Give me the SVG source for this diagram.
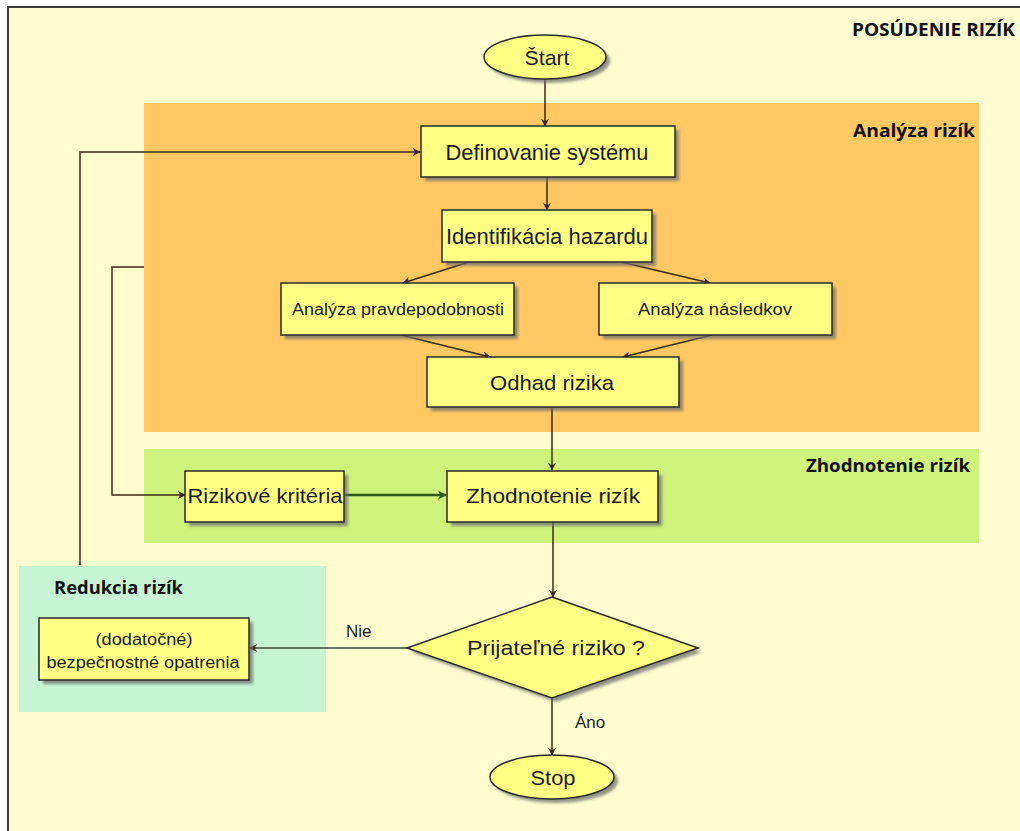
<svg xmlns="http://www.w3.org/2000/svg" width="1020" height="831" viewBox="0 0 1020 831">
<defs>
<style>
.node{fill:#FFFF84;stroke:#2a2a2a;stroke-width:1.5}
.shadow{fill:#6e6e6e;opacity:0.75}
.t{font-family:"Liberation Sans",Arial,sans-serif;fill:#1a1a1a;text-anchor:middle}
.title{font-family:"Open Sans","DejaVu Sans",sans-serif;font-weight:bold;fill:#111}
.lbl{font-family:"Liberation Sans",Arial,sans-serif;fill:#1a1a1a;font-size:17px}
.c{fill:none;stroke:#3b2a12;stroke-width:1.5}
.g{fill:none;stroke:#2f5a18;stroke-width:2.5}
.n{fill:none;stroke:#2f4a36;stroke-width:1.6}
</style>
<filter id="blur" x="-10%" y="-10%" width="130%" height="140%"><feGaussianBlur stdDeviation="1.5"/></filter>
<marker id="ah" viewBox="0 0 10 10" refX="9" refY="5" markerWidth="8" markerHeight="8" markerUnits="userSpaceOnUse" orient="auto">
<path d="M0,0 L10,5 L0,10 L3,5 z" fill="#3b2a12"/>
</marker>
<marker id="ahg" viewBox="0 0 10 10" refX="9" refY="5" markerWidth="9" markerHeight="9" markerUnits="userSpaceOnUse" orient="auto">
<path d="M0,0 L10,5 L0,10 L3,5 z" fill="#2f5a18"/>
</marker>
</defs>

<rect x="0" y="0" width="1020" height="831" fill="#ffffff"/>
<rect id="frame" x="8" y="7" width="1030" height="840" fill="#FFFDCF" stroke="#3a3a3a" stroke-width="2"/>

<g id="regions">
<rect x="144" y="103" width="835" height="329" fill="#FFC863"/>
<rect x="144" y="449" width="835" height="94" fill="#CFF27A"/>
<rect x="19" y="566" width="307" height="146" fill="#C7F5D3"/>
<text class="title" x="1015" y="36" font-size="18" text-anchor="end" textLength="163" lengthAdjust="spacingAndGlyphs">POSÚDENIE RIZÍK</text>
<text class="title" x="975" y="137" font-size="18" text-anchor="end" textLength="122" lengthAdjust="spacingAndGlyphs">Analýza rizík</text>
<text class="title" x="970" y="472" font-size="18" text-anchor="end" textLength="164" lengthAdjust="spacingAndGlyphs">Zhodnotenie rizík</text>
<text class="title" x="54" y="594" font-size="18" textLength="129" lengthAdjust="spacingAndGlyphs">Redukcia rizík</text>
</g>

<g id="connectors">
<path class="c" d="M545,80 V126" marker-end="url(#ah)"/>
<path class="c" d="M80,565 V152 H420" marker-end="url(#ah)"/>
<path class="c" d="M547,177 V210" marker-end="url(#ah)"/>
<path class="c" d="M469,262 L403,283" marker-end="url(#ah)"/>
<path class="c" d="M621,262 L710,283" marker-end="url(#ah)"/>
<path class="c" d="M401,335 L490,357" marker-end="url(#ah)"/>
<path class="c" d="M712,335 L623,357" marker-end="url(#ah)"/>
<path class="c" d="M552,407 V470" marker-end="url(#ah)"/>
<path class="c" d="M144,267 H112 V495 H185" marker-end="url(#ah)"/>
<path class="g" d="M345,495 H446" marker-end="url(#ahg)"/>
<path class="c" d="M553,522 V597" marker-end="url(#ah)"/>
<path class="n" d="M407,648 H250" marker-end="url(#ah)"/>
<path class="c" d="M552,698 V755" marker-end="url(#ah)"/>
<text class="lbl" x="346" y="637">Nie</text>
<text class="lbl" x="575" y="728">Áno</text>
</g>

<g id="start">
<ellipse cx="549" cy="61" rx="61" ry="22" class="shadow" filter="url(#blur)"/>
<ellipse cx="545" cy="57" rx="61" ry="22" class="node"/>
<text class="t" x="547" y="65" font-size="21" textLength="45" lengthAdjust="spacingAndGlyphs">Štart</text>
</g>

<g id="definovanie">
<rect x="425" y="130" width="254" height="51" class="shadow" filter="url(#blur)"/>
<rect x="421" y="126" width="254" height="51" class="node"/>
<text class="t" x="547" y="160" font-size="22" textLength="203" lengthAdjust="spacingAndGlyphs">Definovanie systému</text>
</g>

<g id="identifikacia">
<rect x="446" y="214" width="210" height="52" class="shadow" filter="url(#blur)"/>
<rect x="442" y="210" width="210" height="52" class="node"/>
<text class="t" x="547" y="244" font-size="22" textLength="202" lengthAdjust="spacingAndGlyphs">Identifikácia hazardu</text>
</g>

<g id="pravdepodobnost">
<rect x="285" y="287" width="233" height="52" class="shadow" filter="url(#blur)"/>
<rect x="281" y="283" width="233" height="52" class="node"/>
<text class="t" x="398" y="315" font-size="16" textLength="212" lengthAdjust="spacingAndGlyphs">Analýza pravdepodobnosti</text>
</g>

<g id="nasledky">
<rect x="603" y="287" width="233" height="52" class="shadow" filter="url(#blur)"/>
<rect x="599" y="283" width="233" height="52" class="node"/>
<text class="t" x="715" y="315" font-size="16" textLength="154" lengthAdjust="spacingAndGlyphs">Analýza následkov</text>
</g>

<g id="odhad">
<rect x="431" y="361" width="252" height="50" class="shadow" filter="url(#blur)"/>
<rect x="427" y="357" width="252" height="50" class="node"/>
<text class="t" x="552" y="390" font-size="21" textLength="124" lengthAdjust="spacingAndGlyphs">Odhad rizika</text>
</g>

<g id="kriteria">
<rect x="189" y="475" width="159" height="51" class="shadow" filter="url(#blur)"/>
<rect x="185" y="471" width="159" height="51" class="node"/>
<text class="t" x="265" y="503" font-size="21" textLength="155" lengthAdjust="spacingAndGlyphs">Rizikové kritéria</text>
</g>

<g id="zhodnotenie">
<rect x="451" y="475" width="211" height="51" class="shadow" filter="url(#blur)"/>
<rect x="447" y="471" width="211" height="51" class="node"/>
<text class="t" x="553" y="503" font-size="21" textLength="174" lengthAdjust="spacingAndGlyphs">Zhodnotenie rizík</text>
</g>

<g id="prijatelne">
<polygon points="556,601 702,652 556,702 411,652" class="shadow" filter="url(#blur)"/>
<polygon points="552,597 698,648 552,698 407,648" class="node"/>
<text class="t" x="556" y="655" font-size="21" textLength="178" lengthAdjust="spacingAndGlyphs">Prijateľné riziko ?</text>
</g>

<g id="stop">
<ellipse cx="556" cy="781" rx="62" ry="22" class="shadow" filter="url(#blur)"/>
<ellipse cx="552" cy="777" rx="62" ry="22" class="node"/>
<text class="t" x="553" y="785" font-size="21" textLength="45" lengthAdjust="spacingAndGlyphs">Stop</text>
</g>

<g id="opatrenia">
<rect x="43" y="622" width="210" height="62" class="shadow" filter="url(#blur)"/>
<rect x="39" y="618" width="210" height="62" class="node"/>
<text class="t" x="144" y="645" font-size="16" textLength="97" lengthAdjust="spacingAndGlyphs">(dodatočné)</text>
<text class="t" x="143" y="668" font-size="16" textLength="193" lengthAdjust="spacingAndGlyphs">bezpečnostné opatrenia</text>
</g>
</svg>
